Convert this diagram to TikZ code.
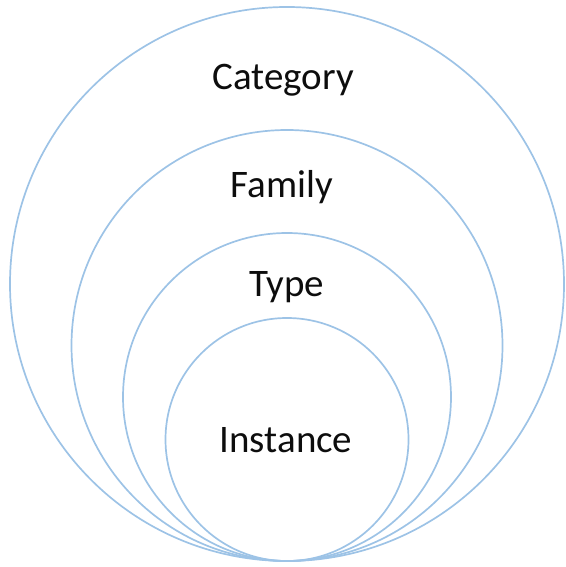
\documentclass[tikz,border=0pt]{standalone}
\usepackage{fontspec}
\setmainfont{Carlito}
\definecolor{ringblue}{RGB}{157,195,230}
\begin{document}
\begin{tikzpicture}[x=1pt,y=-1pt,
  ring/.style={draw=ringblue,line width=1.7pt},
  lbl/.style={font=\fontsize{39}{44}\selectfont,text=black!95,inner sep=0pt}]
\useasboundingbox (0,0) rectangle (565,567);
\coordinate (base) at (287,561);
\draw[ring] (287,284) circle[radius=277];
\draw[ring] (287,345.5) circle[radius=215.5];
\draw[ring] (287,397) circle[radius=164];
\draw[ring] (287,439.5) circle[radius=121.5];
\node[lbl] (category) at (283,80) {Category};
\node[lbl] (family) at (282,187) {Family};
\node[lbl] (type) at (287,287) {Type};
\node[lbl] (instance) at (286,440) {Instance};
\end{tikzpicture}
\end{document}
